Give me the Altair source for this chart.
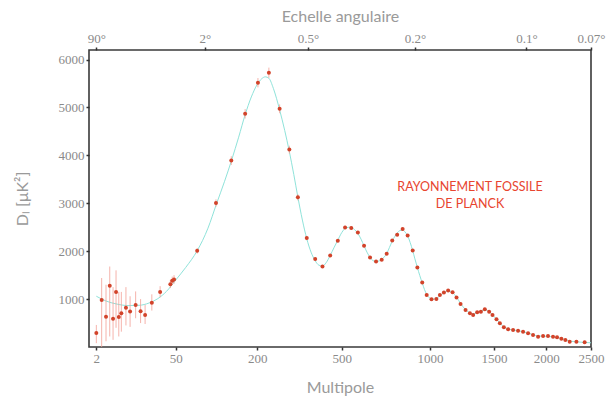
import altair as alt
import pandas as pd

# ---- measured data points (multipole, D_l in uK^2) ----
ell = [2, 3, 4, 5, 6, 7, 8, 9, 11, 13, 16, 19, 22, 27, 34, 44, 46, 48,
       78, 109, 139, 170, 202, 232, 264, 295, 324,
       356, 388, 417, 449, 482, 515, 544, 576, 607, 638,
       670, 701, 729, 761, 790, 823, 854, 886, 916, 948,
       978, 1011, 1045,
       1070, 1099, 1130, 1163, 1193, 1224, 1263, 1298, 1324, 1357,
       1388, 1421, 1458, 1487, 1522, 1552, 1588, 1627, 1673, 1720,
       1768, 1817, 1866, 1917, 1968, 2019, 2072, 2115, 2162, 2206,
       2254, 2330, 2425]
dl = [290, 983, 630, 1280, 590, 1150, 625, 705, 820, 740, 875, 745, 670, 925, 1150, 1310, 1385, 1410,
      2008, 3006, 3891, 4868, 5517, 5726, 4972, 4121, 3124,
      2274, 1835, 1680, 1910, 2217, 2496, 2483, 2391, 2113, 1868,
      1785, 1820, 1946, 2224, 2343, 2462, 2328, 2015, 1659, 1345,
      1088, 998, 1004,
      1088, 1136, 1178, 1144, 1031, 900, 774, 705, 669, 726,
      738, 789, 738, 669, 579, 496, 412, 370, 356, 341,
      320, 287, 251, 216, 230, 230, 216, 203, 174, 146,
      111, 111, 98]
err_low = [80, 0, 120, 220, 150, 400, 220, 320, 450, 420, 600, 500, 480, 760, 1040, 1230, 1300, 1320,
           1950, 2930, 3800, 4770, 5420, 5620, 4880, 4040, 3060,
           2230, 1800, 1650, 1880, 2185, 2460, 2450, 2360, 2080, 1840,
           1760, 1795, 1920, 2198, 2318, 2435, 2302, 1990, 1636, 1323,
           1068, 980, 986,
           1070, 1118, 1160, 1126, 1014, 884, 758, 690, 655, 711,
           723, 773, 722, 654, 565, 482, 398, 357, 343, 328,
           306, 273, 237, 202, 214, 213, 198, 184, 154, 125,
           88, 86, 70]
err_high = [460, 1440, 1300, 1680, 1250, 1600, 1150, 1150, 1250, 1060, 1160, 1000, 880, 1100, 1270, 1400, 1470, 1500,
            2066, 3082, 3982, 4966, 5614, 5832, 5064, 4202, 3188,
            2318, 1870, 1710, 1940, 2249, 2532, 2516, 2422, 2146, 1896,
            1810, 1845, 1972, 2250, 2368, 2489, 2354, 2040, 1682, 1367,
            1108, 1016, 1022,
            1106, 1154, 1196, 1162, 1048, 916, 790, 720, 683, 741,
            753, 805, 754, 684, 593, 510, 426, 383, 369, 354,
            334, 301, 265, 230, 246, 247, 234, 222, 194, 167,
            134, 136, 126]

# ---- theoretical best-fit curve ----
th_ell = [2, 4, 7, 12, 18, 25, 32, 40, 50, 62, 78, 95, 110, 125, 140, 155, 170, 185, 200, 212, 222,
          232, 245, 264, 280, 295, 310, 324, 340, 356, 372, 388, 402, 417, 432, 449, 465, 482, 500,
          520, 540, 560, 576, 592, 607, 622, 638, 655, 672, 688, 701, 715, 729, 745, 761, 776, 790,
          806, 823, 838, 854, 870, 886, 900, 916, 932, 948, 963, 978, 995, 1011, 1030, 1047, 1070,
          1099, 1125, 1145, 1163, 1193, 1224, 1263, 1298, 1324, 1357, 1390, 1421, 1445, 1470, 1500,
          1530, 1560, 1590, 1627, 1673, 1720, 1768, 1817, 1866, 1917, 1968, 2019, 2072, 2115, 2162,
          2206, 2254, 2330, 2425, 2500]
th_dl = [1060, 960, 900, 865, 870, 920, 1010, 1160, 1400, 1660, 2010, 2480, 2990, 3450, 3910, 4380,
         4850, 5220, 5480, 5600, 5640, 5610, 5400, 4950, 4520, 4080, 3600, 3130, 2650, 2260, 1980,
         1800, 1710, 1690, 1760, 1910, 2070, 2230, 2390, 2490, 2500, 2450, 2370, 2250, 2110, 1980,
         1870, 1800, 1785, 1800, 1830, 1880, 1950, 2080, 2210, 2310, 2380, 2430, 2440, 2400, 2320,
         2180, 2010, 1840, 1660, 1490, 1340, 1200, 1100, 1030, 1005, 1000, 1015, 1070, 1130, 1165,
         1160, 1135, 1040, 910, 780, 710, 690, 715, 750, 775, 760, 715, 640, 560, 480, 420, 375,
         355, 340, 318, 290, 255, 230, 225, 222, 212, 198, 175, 150, 125, 108, 95, 88]

# ---- axis ticks ----
bottom_ticks = [2, 50, 200, 500, 1000, 1500, 2000, 2500]
top_ticks = [2, 90, 360, 900, 1800, 2500]
top_labels = ["90°", "2°", "0.5°", "0.2°", "0.1°", "0.07°"]
y_ticks = [1000, 2000, 3000, 4000, 5000, 6000]

pts_df = pd.DataFrame({"ell": ell, "dl": dl, "lo": err_low, "hi": err_high})
th_df = pd.DataFrame({"ell": th_ell, "dl": th_dl})
top_df = pd.DataFrame({"ell": top_ticks})

label_expr = " : ".join(
    f"datum.value == {v} ? '{l}'" for v, l in zip(top_ticks, top_labels)
) + " : ''"

x_scale = alt.Scale(type="pow", exponent=0.4, domain=[1, 2500], nice=False, zero=False)
y_scale = alt.Scale(domain=[0, 6200], nice=False)

GRAY = "#9a9a9a"
LBL = "#8a8a8a"
Y_TITLE = "D\u2097 [\u03bcK\u00b2]"

common_axis = dict(
    labelFont="Liberation Serif", labelFontSize=13, labelColor=LBL,
    titleFont="Lato", titleFontSize=16, titleColor=GRAY, titleFontWeight="normal",
    tickColor="#333333", tickSize=3, tickWidth=1.5, domain=False, grid=False,
    labelOverlap=False, labelFlush=False,
)
y_axis = alt.Axis(values=y_ticks, format="d", title=Y_TITLE,
                  labelPadding=2, titlePadding=28, **common_axis)

theory = alt.Chart(th_df).mark_line(color="#8fe3da", strokeWidth=1, interpolate="monotone").encode(
    x=alt.X("ell:Q", scale=x_scale,
            axis=alt.Axis(orient="bottom", values=bottom_ticks, format="d", title="Multipole",
                          labelPadding=2, titlePadding=14, **common_axis)),
    y=alt.Y("dl:Q", scale=y_scale, axis=y_axis, title=Y_TITLE),
)

errs = alt.Chart(pts_df).mark_rule(color="#f2a096", strokeWidth=0.8).encode(
    x=alt.X("ell:Q", scale=x_scale, axis=None),
    y=alt.Y("lo:Q", scale=y_scale, axis=y_axis, title=Y_TITLE),
    y2="hi:Q",
)

points = alt.Chart(pts_df).mark_circle(size=16, color="#d2432a", opacity=1).encode(
    x=alt.X("ell:Q", scale=x_scale, axis=None),
    y=alt.Y("dl:Q", scale=y_scale, axis=y_axis, title=Y_TITLE),
)

top_axis = alt.Chart(top_df).mark_point(opacity=0).encode(
    x=alt.X("ell:Q", scale=x_scale,
            axis=alt.Axis(orient="top", values=top_ticks, labelExpr=label_expr,
                          title="Echelle angulaire", labelPadding=2, titlePadding=8, **common_axis)),
    y=alt.value(0),
)

note = alt.Chart(pd.DataFrame({"t": ["RAYONNEMENT FOSSILE\nDE PLANCK"]})).mark_text(
    color="#e8452f", font="Lato", fontSize=12.5, lineBreak="\n", lineHeight=17, align="center",
    baseline="middle"
).encode(text="t:N", x=alt.value(381), y=alt.value(137))

chart = alt.layer(theory, errs, points, top_axis, note).resolve_axis(x="independent").properties(
    width=502, height=297,
    autosize=alt.AutoSizeParams(type="none"),
    padding={"left": 89, "top": 50, "right": 20, "bottom": 56},
    background="white",
).configure_view(stroke="#3a3a3a", strokeWidth=1.6)

chart.save("out.html", embed_options={"renderer": "svg", "actions": False})
